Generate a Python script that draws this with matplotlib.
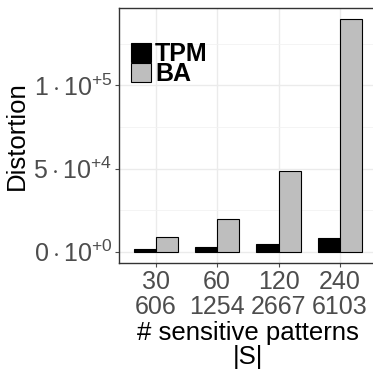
import matplotlib.pyplot as plt
import numpy as np
from matplotlib.patches import Patch

plt.rcParams['font.family'] = ['Liberation Sans', 'DejaVu Sans']
plt.rcParams['mathtext.fontset'] = 'custom'
plt.rcParams['mathtext.rm'] = 'Liberation Sans'
plt.rcParams['mathtext.it'] = 'Liberation Sans:italic'

# Data
categories = ['30\n606', '60\n1254', '120\n2667', '240\n6103']
tpm = [1600, 2600, 4400, 8400]
ba = [9000, 19600, 48400, 139700]
yticks = [0, 50000, 100000]
ytick_labels = [r'$0\cdot10^{+0}$', r'$5\cdot10^{+4}$', r'$1\cdot10^{+5}$']

fig = plt.figure(figsize=(3.73, 3.74), dpi=100)
ax = fig.add_axes([0.319, 0.296, 0.691, 0.683])

x = np.arange(len(categories))
w = 0.36
ax.bar(x - w / 2, tpm, w, color='black', edgecolor='black', linewidth=0.8, zorder=3)
ax.bar(x + w / 2, ba, w, color='#BEBEBE', edgecolor='black', linewidth=0.8, zorder=3)

top = max(ba)
ax.set_ylim(-0.05 * top, 1.05 * top)
ax.set_xlim(-0.6, len(categories) - 0.4)

ax.set_yticks(yticks)
ax.set_yticklabels(ytick_labels)
ax.set_yticks([25000, 75000, 125000], minor=True)
ax.set_xticks(x)
ax.set_xticklabels(categories, linespacing=1.05)

ax.grid(True, which='major', color='#EBEBEB', linewidth=1.0, zorder=0)
ax.grid(True, which='minor', axis='y', color='#F2F2F2', linewidth=0.6, zorder=0)
ax.tick_params(which='major', labelsize=18, colors='#4D4D4D', length=3, width=0.8, pad=2)
ax.tick_params(which='minor', length=0)
ax.tick_params(axis='x', pad=2)
for s in ax.spines.values():
    s.set_color('#333333')
    s.set_linewidth(1.0)

ax.set_ylabel('Distortion', fontsize=18.5, labelpad=3)
ax.set_xlabel('# sensitive patterns\n|S|', fontsize=18.5, linespacing=1.0, labelpad=1)

handles = [Patch(facecolor='black', edgecolor='black', linewidth=0.8),
           Patch(facecolor='#BEBEBE', edgecolor='black', linewidth=0.8)]
ax.legend(handles, ['TPM', 'BA'], loc='upper left', bbox_to_anchor=(0.0, 0.915),
          frameon=False, prop={'weight': 'bold', 'size': 18},
          handlelength=0.8, handleheight=0.8, handletextpad=0.15,
          labelspacing=-0.15, borderpad=0.2, borderaxespad=0.3)

fig.savefig('out.png', dpi=100)
